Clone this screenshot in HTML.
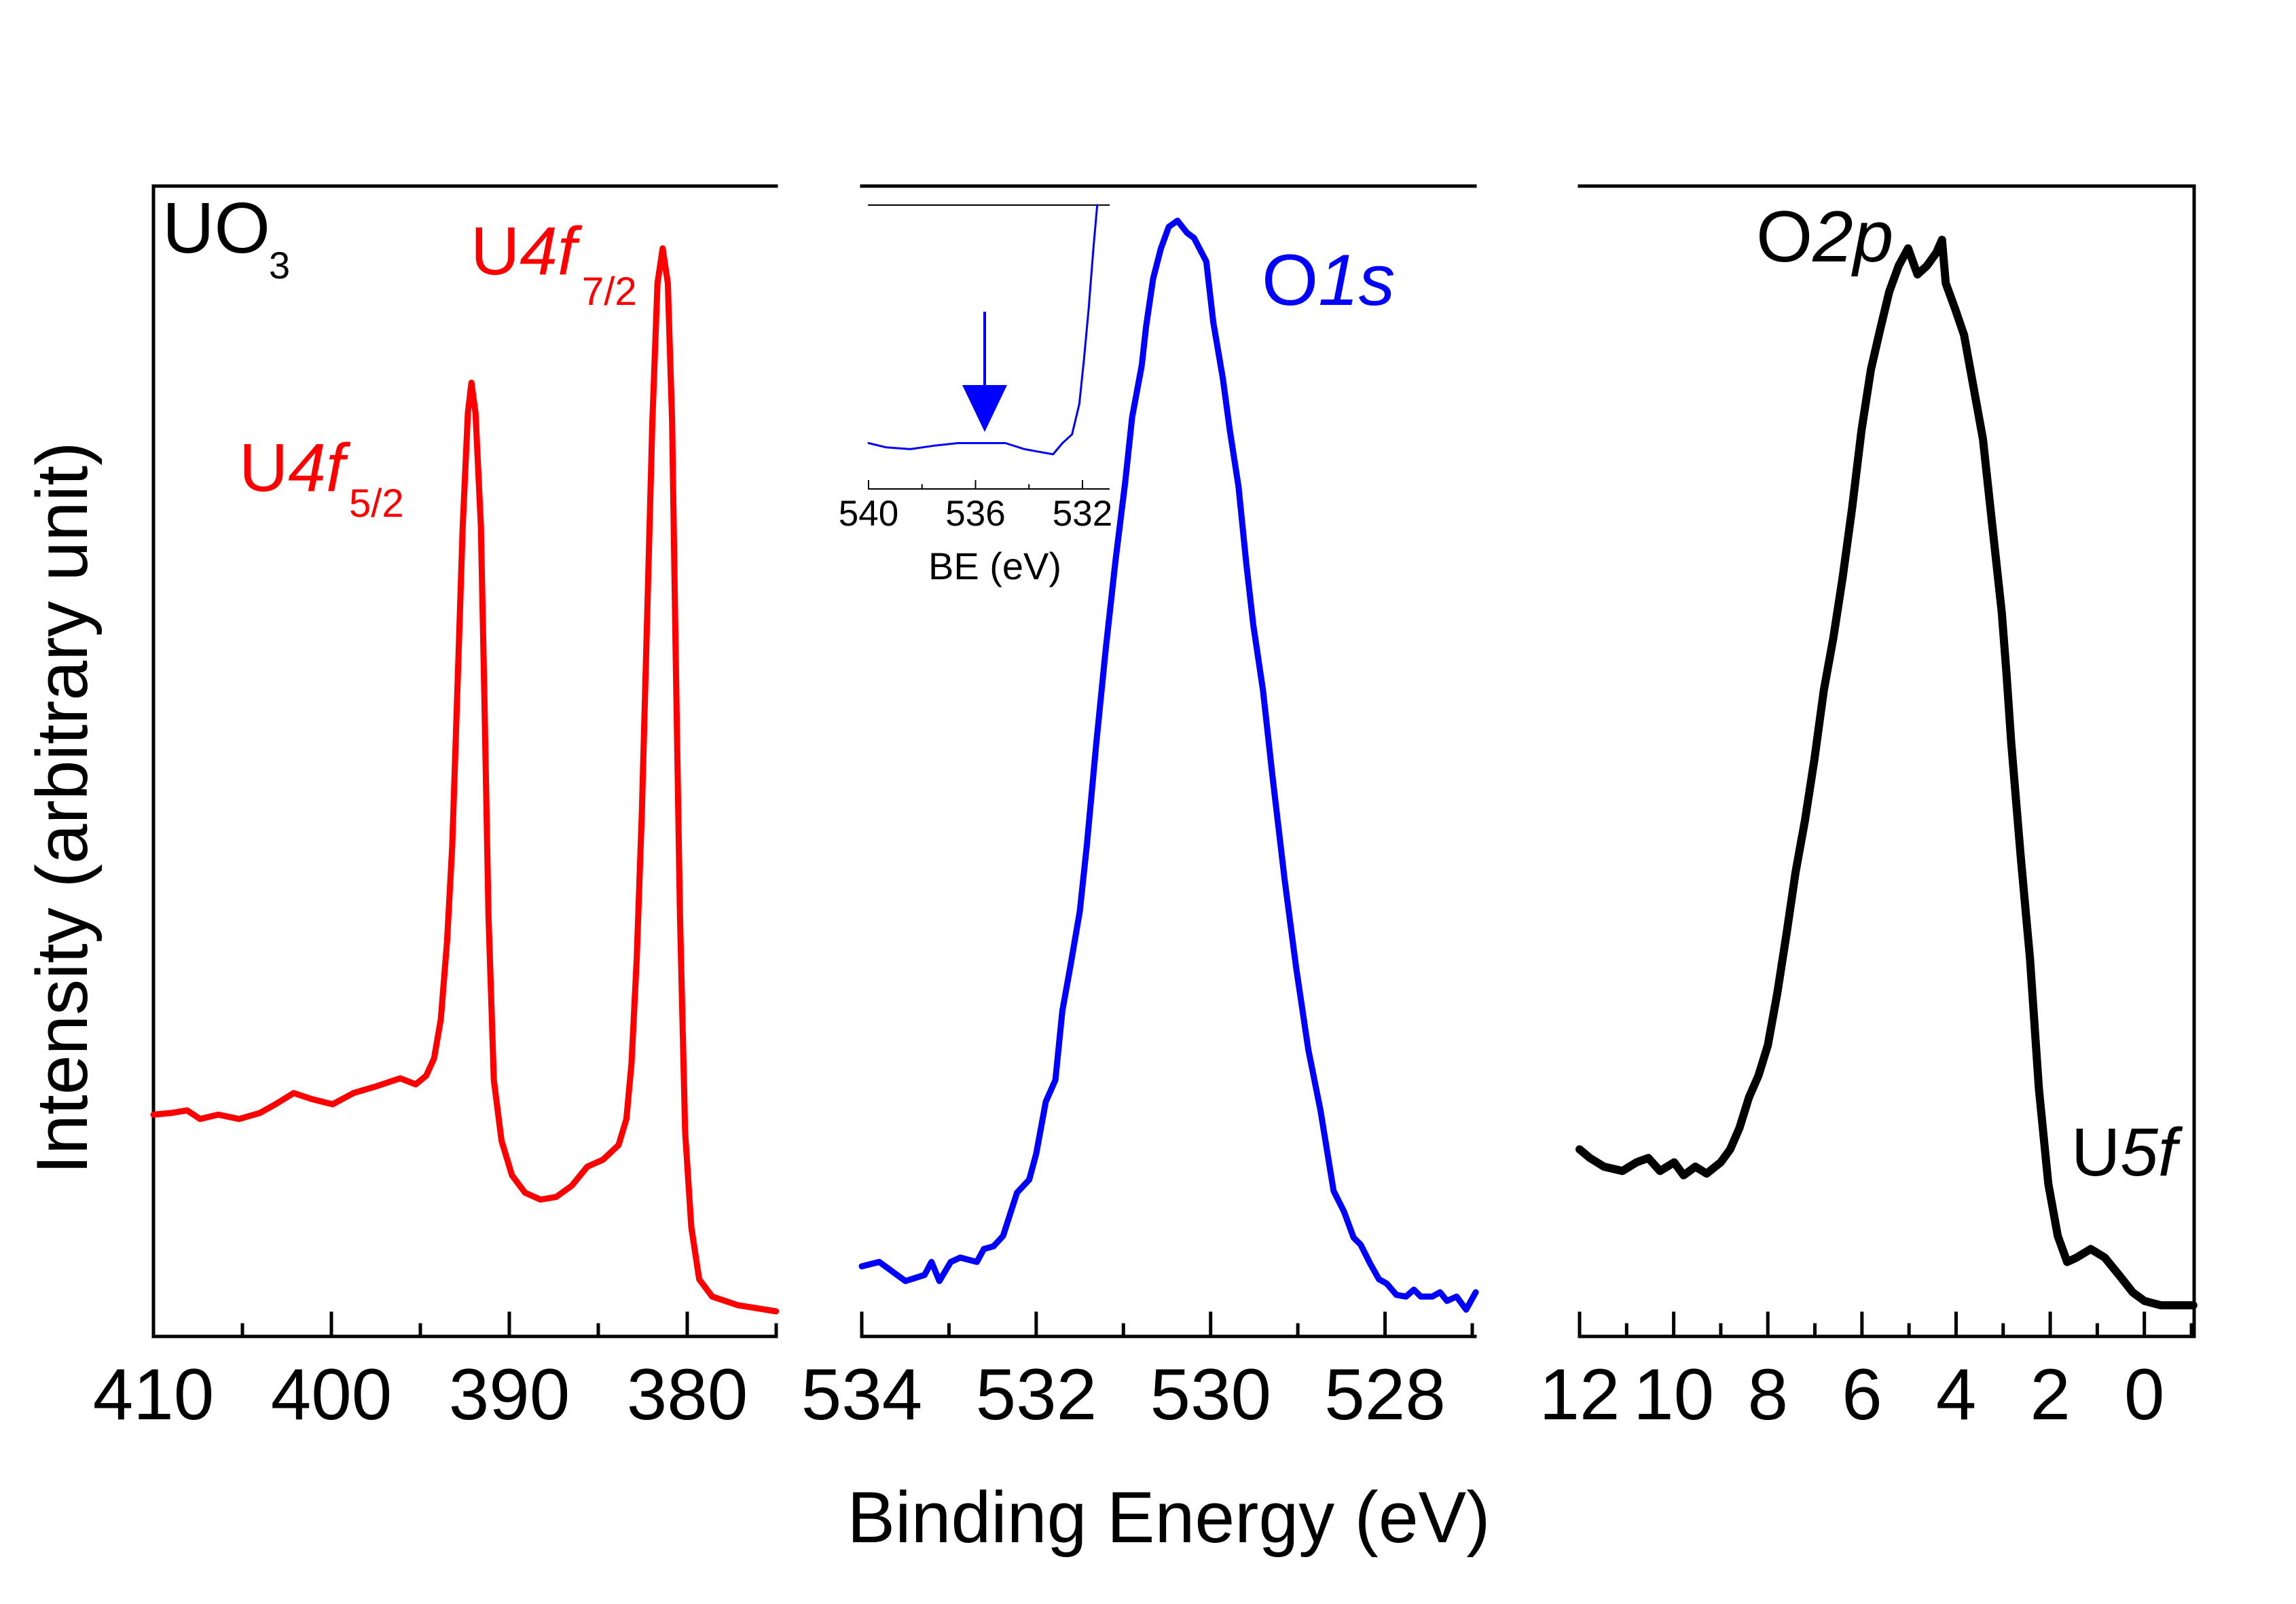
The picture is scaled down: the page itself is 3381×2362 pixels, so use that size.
<!DOCTYPE html>
<html>
<head>
<meta charset="utf-8">
<style>
html,body{margin:0;padding:0;background:#fff;}
svg{display:block;}
text{font-family:"Liberation Sans",Arial,sans-serif;}
</style>
</head>
<body>
<svg id="chart" width="3381" height="2362" viewBox="0 0 3381 2362" xmlns="http://www.w3.org/2000/svg">
<rect x="0" y="0" width="3381" height="2362" fill="#fff"/>
<g id="axes"></g>
<g id="series"></g>
<g id="labels">
  <text x="128" y="1190" transform="rotate(-90 128 1190)" text-anchor="middle" font-size="107" textLength="1079" lengthAdjust="spacingAndGlyphs" fill="#000">Intensity (arbitrary unit)</text>
  <text x="1721" y="2271" text-anchor="middle" font-size="107" textLength="947" lengthAdjust="spacingAndGlyphs" fill="#000">Binding Energy (eV)</text>
  <text x="239" y="372" font-size="106" fill="#000">UO<tspan x="396" y="410" font-size="56">3</tspan></text>
  <text x="693" y="404" font-size="100" fill="#ff0000">U<tspan font-style="italic">4f</tspan><tspan x="857" y="449" font-size="58">7/2</tspan></text>
  <text x="352" y="723" font-size="100" fill="#ff0000">U<tspan font-style="italic">4f</tspan><tspan x="514" y="761" font-size="58">5/2</tspan></text>
  <text x="1858" y="449" font-size="107" fill="#0000ff">O<tspan font-style="italic">1s</tspan></text>
  <text x="2586" y="385" font-size="107" fill="#000">O<tspan font-style="italic">2p</tspan></text>
  <text x="3050" y="1731" font-size="100" fill="#000">U<tspan font-style="italic">5f</tspan></text>
  <text x="1465" y="853" text-anchor="middle" font-size="56" fill="#000">BE (eV)</text>
  <line x1="1450" y1="459" x2="1450" y2="600" stroke="#0000ff" stroke-width="4"/>
  <polygon points="1417,567 1483,567 1450,636 1450,636" fill="#0000ff"/>
</g>
</svg>
<script>
// ---- Data (intensity in arbitrary units) ----
const u4fBE = [410.00,408.99,408.11,407.38,406.36,405.19,404.02,403.14,402.12,401.10,399.93,398.76,397.59,396.13,395.26,394.67,394.23,393.85,393.50,393.21,392.92,392.62,392.33,392.13,391.90,391.60,391.40,391.17,390.87,390.44,389.85,389.12,388.25,387.37,386.49,385.62,384.74,383.86,383.42,383.13,382.84,382.55,382.26,381.96,381.67,381.38,381.09,380.85,380.65,380.41,380.12,379.77,379.33,378.60,377.14,375.01];
const u4fI = [256,258,261,251,256,251,258,268,281,274,268,281,288,298,291,301,321,366,456,566,746,936,1066,1101,1066,936,736,486,296,226,186,166,158,161,174,196,204,221,251,316,436,606,826,1056,1216,1256,1216,1056,786,486,236,126,66,46,36,29];
const o1sBE = [534.00,533.80,533.50,533.28,533.20,533.11,532.98,532.87,532.68,532.60,532.49,532.38,532.22,532.08,532.00,531.89,531.78,531.70,531.61,531.50,531.42,531.31,531.20,531.09,530.98,530.90,530.79,530.74,530.66,530.57,530.48,530.38,530.27,530.19,530.05,529.97,529.86,529.78,529.68,529.59,529.51,529.40,529.29,529.15,529.02,528.88,528.74,528.59,528.47,528.36,528.28,528.17,528.07,527.98,527.87,527.76,527.67,527.59,527.46,527.37,527.29,527.18,527.07,526.96];
const o1sI = [81,86,64,71,86,64,86,91,86,101,104,116,166,181,211,271,296,376,426,491,566,686,796,896,986,1061,1121,1166,1221,1256,1281,1288,1274,1268,1241,1171,1106,1046,981,891,821,746,646,526,426,331,261,168,144,114,106,84,66,61,48,46,54,46,46,51,41,46,31,51];
const o2pBE = [12.00,11.78,11.48,11.09,10.79,10.54,10.29,9.99,9.79,9.54,9.30,9.00,8.80,8.60,8.40,8.20,8.00,7.80,7.60,7.41,7.21,7.01,6.81,6.61,6.41,6.21,6.01,5.81,5.62,5.42,5.22,5.02,4.82,4.62,4.42,4.30,4.22,4.02,3.83,3.63,3.43,3.23,3.03,2.93,2.83,2.63,2.43,2.24,2.04,1.84,1.64,1.44,1.14,0.84,0.54,0.25,0.00,-0.35,-1.04];
const o2pI = [216,206,196,191,201,206,191,201,186,196,188,201,216,241,276,301,336,396,466,536,596,666,746,806,876,956,1046,1116,1161,1206,1236,1256,1226,1236,1251,1266,1216,1186,1156,1096,1036,936,836,766,686,556,436,286,176,116,86,91,101,91,71,51,41,36,36];
const insetBE = [540.0,539.34,538.44,537.55,536.66,535.67,534.88,534.17,533.64,533.10,532.75,532.39,532.12,531.95,531.77,531.59,531.45];
const insetI = [53,48,46,50,53,53,53,46,43,40,53,63,98,148,208,278,328];
const ticks1 = [410,400,390,380];
const minor1 = [405,395,385,375];
const ticks2 = [534,532,530,528];
const minor2 = [533,531,529,527];
const ticks3 = [12,10,8,6,4,2,0];
const minor3 = [11,9,7,5,3,1,-1];
const insetTicks = [540,536,532];
const insetMinor = [538,534];

// ---- Geometry ----
const Y0 = 1968, YT = 274, IMAX = 1328;
function yS(v){ return Y0 - v * (Y0 - YT) / IMAX; }
function mkX(b0, b1, p0, p1){ return v => p0 + (b0 - v) * (p1 - p0) / (b0 - b1); }
const x1 = mkX(410, 375, 226, 1143);
const x2 = mkX(534, 527, 1269, 2168);
const x3 = mkX(12, -1, 2326, 3227);
const xi = mkX(540, 532, 1279, 1594);
const INSET_Y0 = 720, INSET_TOP = 302;
function yi(v){ return INSET_Y0 - v * (INSET_Y0 - INSET_TOP) / 328; }

const NS = "http://www.w3.org/2000/svg";
const axes = document.getElementById('axes');
const series = document.getElementById('series');
function el(tag, attrs, parent){
  const e = document.createElementNS(NS, tag);
  for (const k in attrs) e.setAttribute(k, attrs[k]);
  parent.appendChild(e);
  return e;
}
function line(x1_, y1_, x2_, y2_, w, name, parent){
  const l = el('line', {x1:x1_, y1:y1_, x2:x2_, y2:y2_, stroke:'#000', 'stroke-width':w, 'stroke-linecap':'square'}, parent);
  
  
  return l;
}

function panel(name, xs, left, right, ticks, minor, leftAxis, rightAxis){
  line(left, Y0, right, Y0, 5, name + '-x-axis', axes);
  line(left, YT, right, YT, 5, name + '-top-border', axes);
  if (leftAxis) line(left, YT, left, Y0, 5, name + '-y-axis', axes);
  if (rightAxis) line(right, YT, right, Y0, 5, name + '-right-border', axes);
  ticks.forEach(t => {
    const x = xs(t);
    line(x, Y0, x, Y0 - 34, 5, name + '-major-tick', axes);
    const tx = el('text', {x:x, y:2090, 'text-anchor':'middle', 'font-size':107, fill:'#000'}, axes);
    tx.textContent = String(t);
    
    
  });
  minor.forEach(t => {
    const x = xs(t);
    line(x, Y0, x, Y0 - 17, 5, name + '-minor-tick', axes);
  });
}
panel('u4f-panel', x1, 226, 1143, ticks1, minor1, true, false);
panel('o1s-panel', x2, 1269, 2172, ticks2, minor2, false, false);
panel('valence-panel', x3, 2326, 3231, ticks3, minor3, false, true);

function curve(bes, vals, xs, ys, color, w, name){
  let d = '';
  bes.forEach((b, i) => { d += (i ? 'L' : 'M') + xs(b).toFixed(1) + ',' + ys(vals[i]).toFixed(1); });
  const p = el('path', {d:d, fill:'none', stroke:color, 'stroke-width':w, 'stroke-linejoin':'round', 'stroke-linecap':'round'}, series);
  
  
}
curve(u4fBE, u4fI, x1, yS, '#ff0000', 9, 'u4f-spectrum-line');
curve(o1sBE, o1sI, x2, yS, '#0000ff', 9, 'o1s-spectrum-line');
curve(o2pBE, o2pI, x3, yS, '#000000', 12, 'valence-spectrum-line');

// inset
line(1279, INSET_TOP, 1633, INSET_TOP, 2, 'inset-top-border', axes);
line(1279, INSET_Y0, 1633, INSET_Y0, 2, 'inset-x-axis', axes);
insetTicks.forEach(t => {
  const x = xi(t);
  line(x, INSET_Y0, x, INSET_Y0 - 12, 2, 'inset-major-tick', axes);
  const tx = el('text', {x:x, y:774, 'text-anchor':'middle', 'font-size':53, fill:'#000'}, axes);
  tx.textContent = String(t);
  
  
});
insetMinor.forEach(t => {
  const x = xi(t);
  line(x, INSET_Y0, x, INSET_Y0 - 6, 2, 'inset-minor-tick', axes);
});
curve(insetBE, insetI, xi, yi, '#0000ff', 3, 'inset-o1s-line');
</script>
</body>
</html>
